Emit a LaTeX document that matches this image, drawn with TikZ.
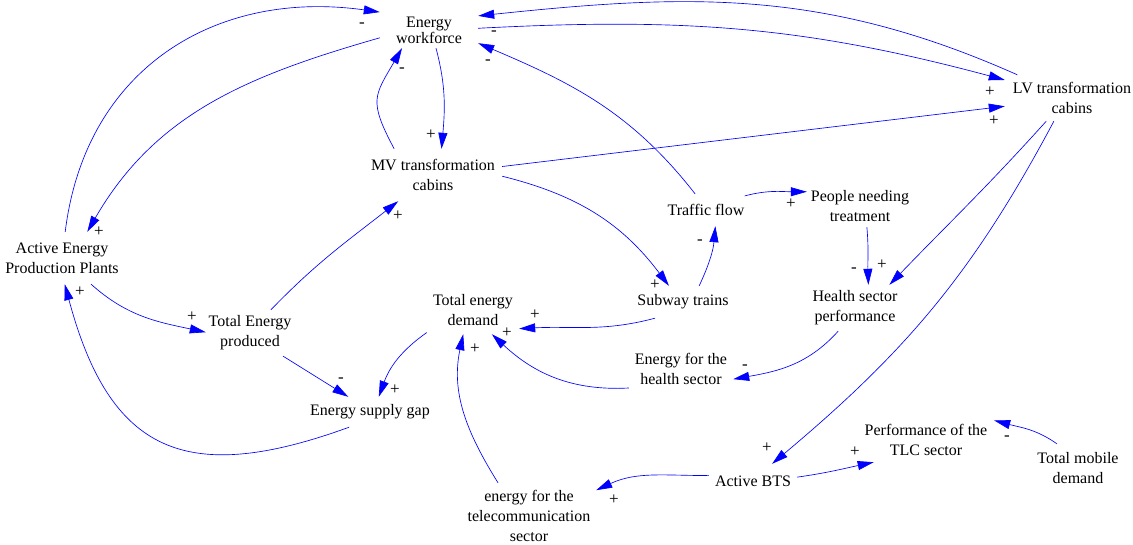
\documentclass[tikz,border=0pt]{standalone}
\usepackage{fontspec}
\setmainfont{Liberation Serif}
\usetikzlibrary{arrows.meta}
\begin{document}
\begin{tikzpicture}[x=1pt,y=1pt,
  var/.style={align=center, inner sep=0pt, text=black,
    font=\rmfamily\fontsize{16}{20}\selectfont},
  link/.style={draw=blue, line width=0.65pt,
    -{Triangle[length=16pt,width=9pt]}},
  pol/.style={inner sep=0pt, text=black, font=\rmfamily\fontsize{17}{17}\selectfont}]
\useasboundingbox (0,0) rectangle (1133,-544);

% variables
\node[var, minimum width=98, minimum height=36,
  font=\rmfamily\fontsize{16}{14}\selectfont] (ew) at (429,-30) {Energy\\workforce};
\node[var, minimum width=138, minimum height=52] (mv) at (433,-175) {MV transformation\\cabins};
\node[var, minimum width=134, minimum height=46] (lv) at (1072,-98) {LV transformation\\cabins};
\node[var, minimum width=124, minimum height=52] (ape) at (62,-258) {Active Energy\\Production Plants};
\node[var, minimum width=88, minimum height=46] (tep) at (250,-333) {Total Energy\\produced};
\node[var, minimum width=124, minimum height=30] (esg) at (370,-412) {Energy supply gap};
\node[var, minimum width=92, minimum height=48] (ted) at (473,-310) {Total energy\\demand};
\node[var, minimum width=94, minimum height=32] (sub) at (683,-302) {Subway trains};
\node[var, minimum width=76, minimum height=32] (tf) at (706,-210) {Traffic flow};
\node[var, minimum width=106, minimum height=42] (pnt) at (860,-206) {People needing\\treatment};
\node[var, minimum width=100, minimum height=46] (hsp) at (855,-308) {Health sector\\performance};
\node[var, minimum width=104, minimum height=40] (ehs) at (681,-369) {Energy for the\\health sector};
\node[var, minimum width=88, minimum height=34] (bts) at (753,-481) {Active BTS};
\node[var, minimum width=134, minimum height=66] (eft) at (529,-516) {energy for the\\telecommunication\\sector};
\node[var, minimum width=136, minimum height=44] (ptlc) at (926,-440) {Performance of the\\TLC sector};
\node[var, minimum width=90, minimum height=48] (tmd) at (1078,-468) {Total mobile\\demand};

% causal links
\draw[link] (ape.83) to[out=83,in=172,looseness=1.1] (ew.160);
\draw[link] (ew.189) to[out=196,in=60] (ape.46);
\draw[link] (mv.146) to[out=118,in=240,looseness=1.4] (ew.214);
\draw[link] (ew.291) to[out=285,in=85] (mv.72);
\draw[link] (lv.157) to[out=156,in=6] (ew.16);
\draw[link] (ew.2) to[out=3,in=165] (lv.165);
\draw[link] (mv.7.5) -- (lv.187);
\draw[link] (tf.124) to[out=128,in=337] (ew.345);
\draw[link] (mv.359) to[out=346,in=127] (sub.131);
\draw[link] (sub.45) to[out=65,in=265] (tf.300);
\draw[link] (tf.20) to[out=15,in=180] (pnt.165);
\draw[link] (pnt.288) to[out=275,in=92] (hsp.60);
\draw[link] (lv.222) to[out=228,in=46] (hsp.34);
\draw[link] (lv.232) to[out=242,in=40] (bts.42);
\draw[link] (hsp.234) to[out=228,in=10] (ehs.349);
\draw[link] (ehs.200) to[out=183,in=317] (ted.308);
\draw[link] (sub.210) to[out=195,in=3] (ted.338);
\draw[link] (eft.133) to[out=122,in=258] (ted.248);
\draw[link] (ted.206) to[out=215,in=70] (esg.60);
\draw[link] (tep.325) -- (esg.145);
\draw[link] (esg.216) to[out=200,in=285,looseness=1.4] (ape.276);
\draw[link] (ape.318) to[out=318,in=168] (tep.179);
\draw[link] (tep.48) to[out=46,in=218] (mv.217);
\draw[link] (bts.173) to[out=180,in=25] (eft.21);
\draw[link] (bts.5) to[out=8,in=192] (ptlc.203);
\draw[link] (tmd.131) to[out=145,in=345] (ptlc.16);

% link polarities
\node[pol] (p1) at (362,-25) {-};
\node[pol] (p2) at (99,-232) {+};
\node[pol] (p3) at (402,-70) {-};
\node[pol] (p4) at (431,-135) {+};
\node[pol] (p5) at (494,-33) {-};
\node[pol] (p6) at (990,-92) {+};
\node[pol] (p7) at (994,-121) {+};
\node[pol] (p8) at (488,-62) {-};
\node[pol] (p9) at (655,-285) {+};
\node[pol] (p10) at (700,-242) {-};
\node[pol] (p11) at (791,-204) {+};
\node[pol] (p12) at (854,-270) {-};
\node[pol] (p13) at (882,-265) {+};
\node[pol] (p14) at (767,-448) {+};
\node[pol] (p15) at (745,-367) {-};
\node[pol] (p16) at (507,-333) {+};
\node[pol] (p17) at (535,-315) {+};
\node[pol] (p18) at (475,-349) {+};
\node[pol] (p19) at (395,-390) {+};
\node[pol] (p20) at (341,-380) {-};
\node[pol] (p21) at (80,-292) {+};
\node[pol] (p22) at (192,-317) {+};
\node[pol] (p23) at (398,-216) {+};
\node[pol] (p24) at (614,-500) {+};
\node[pol] (p25) at (855,-452) {+};
\node[pol] (p26) at (1007,-438) {-};
\end{tikzpicture}
\end{document}
